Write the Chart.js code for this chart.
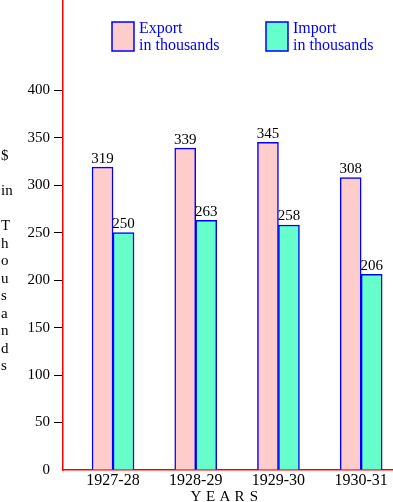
<!DOCTYPE html>
<html>
<head>
<meta charset="utf-8">
<script src="https://cdn.jsdelivr.net/npm/chart.js@4"></script>
<style>
  html, body { margin: 0; padding: 0; background: #fff; }
  #wrap { width: 393px; height: 502px; }
</style>
</head>
<body>
<div id="wrap"><canvas id="barChart" width="393" height="502"></canvas></div>
<script>
var years = ["1927-28", "1928-29", "1929-30", "1930-31"];
var exportValues = [319, 339, 345, 308];
var importValues = [250, 263, 258, 206];
var yTicks = [0, 50, 100, 150, 200, 250, 300, 350, 400];
var yTitleParts = ["$", "in", "T", "h", "o", "u", "s", "a", "n", "d", "s"];

var serif = '"Liberation Serif", "Times New Roman", serif';

function toPoints(values) {
    return values.map(function (v, i) { return { x: i, y: v }; });
}

// value labels over each bar
var barLabels = {
    id: 'barLabels',
    afterDatasetsDraw: function (chart) {
        var ctx = chart.ctx;
        ctx.save();
        ctx.font = '15px ' + serif;
        ctx.fillStyle = '#000';
        ctx.textAlign = 'center';
        ctx.textBaseline = 'bottom';
        chart.data.datasets.forEach(function (ds, di) {
            chart.getDatasetMeta(di).data.forEach(function (bar, i) {
                ctx.fillText(String(ds.data[i].y), bar.x, bar.y - 1);
            });
        });
        ctx.restore();
    }
};

// legend boxes, axis titles
var extras = {
    id: 'extras',
    afterDraw: function (chart) {
        var ctx = chart.ctx;
        ctx.save();
        // legend
        var items = [
            { x: 112, fill: '#ffcccc', lines: ['Export', 'in thousands'] },
            { x: 266, fill: '#66ffcc', lines: ['Import', 'in thousands'] }
        ];
        ctx.font = '16px ' + serif;
        ctx.textAlign = 'left';
        ctx.textBaseline = 'alphabetic';
        items.forEach(function (it) {
            ctx.fillStyle = it.fill;
            ctx.fillRect(it.x, 22, 22, 29);
            ctx.strokeStyle = '#0000ff';
            ctx.lineWidth = 1.5;
            ctx.strokeRect(it.x, 22, 22, 29);
            ctx.fillStyle = '#0000ff';
            ctx.fillText(it.lines[0], it.x + 27, 33);
            ctx.fillText(it.lines[1], it.x + 27, 50);
        });
        // vertical y title
        ctx.fillStyle = '#000';
        ctx.font = '15px ' + serif;
        var ys = [160, 195, 230, 247.5, 265, 282.5, 300, 317.5, 335, 352.5, 370];
        yTitleParts.forEach(function (t, i) {
            ctx.fillText(t, 1, ys[i]);
        });
        // x title
        var letters = 'YEARS'.split('');
        ctx.textAlign = 'center';
        letters.forEach(function (l, i) {
            ctx.fillText(l, 196 + i * 14.5, 501);
        });
        ctx.restore();
    }
};

var ctxB = document.getElementById('barChart').getContext('2d');
var myBarChart = new Chart(ctxB, {
    type: 'bar',
    data: {
        datasets: [
            {
                label: 'Export in thousands',
                data: toPoints(exportValues),
                backgroundColor: '#ffcccc',
                borderColor: '#0000ff',
                borderWidth: 1.5,
                barThickness: 21
            },
            {
                label: 'Import in thousands',
                data: toPoints(importValues),
                backgroundColor: '#66ffcc',
                borderColor: '#0000ff',
                borderWidth: 1.5,
                barThickness: 21
            }
        ]
    },
    options: {
        responsive: false,
        animation: false,
        layout: { padding: 0 },
        plugins: {
            legend: { display: false },
            tooltip: { enabled: false }
        },
        scales: {
            x: {
                type: 'linear',
                offset: false,
                min: -0.605,
                max: 3.385,
                afterBuildTicks: function (scale) {
                    scale.ticks = years.map(function (y, i) { return { value: i }; });
                },
                afterFit: function (scale) {
                    scale.height = 32;
                    scale.paddingLeft = 0;
                    scale.paddingRight = 0;
                },
                grid: { display: false, drawTicks: false, tickLength: 0 },
                border: { display: true, color: '#ff0000', width: 1.5 },
                ticks: {
                    color: '#000',
                    font: { family: serif, size: 16 },
                    padding: 1,
                    maxRotation: 0,
                    autoSkip: false,
                    callback: function (v) { return years[v]; }
                }
            },
            y: {
                min: 0,
                max: 495,
                afterBuildTicks: function (scale) {
                    scale.ticks = yTicks.map(function (v) { return { value: v }; });
                },
                afterFit: function (scale) {
                    scale.width = 63;
                    scale.paddingTop = 0;
                    scale.paddingBottom = 0;
                },
                grid: {
                    drawOnChartArea: false,
                    drawTicks: true,
                    tickLength: 9,
                    color: function (c) { return c.tick && c.tick.value === 0 ? 'rgba(0,0,0,0)' : '#000'; }
                },
                border: { display: true, color: '#ff0000', width: 1.5 },
                ticks: {
                    color: '#000',
                    font: { family: serif, size: 15 },
                    padding: 4
                }
            }
        }
    },
    plugins: [barLabels, extras]
});
</script>
</body>
</html>
